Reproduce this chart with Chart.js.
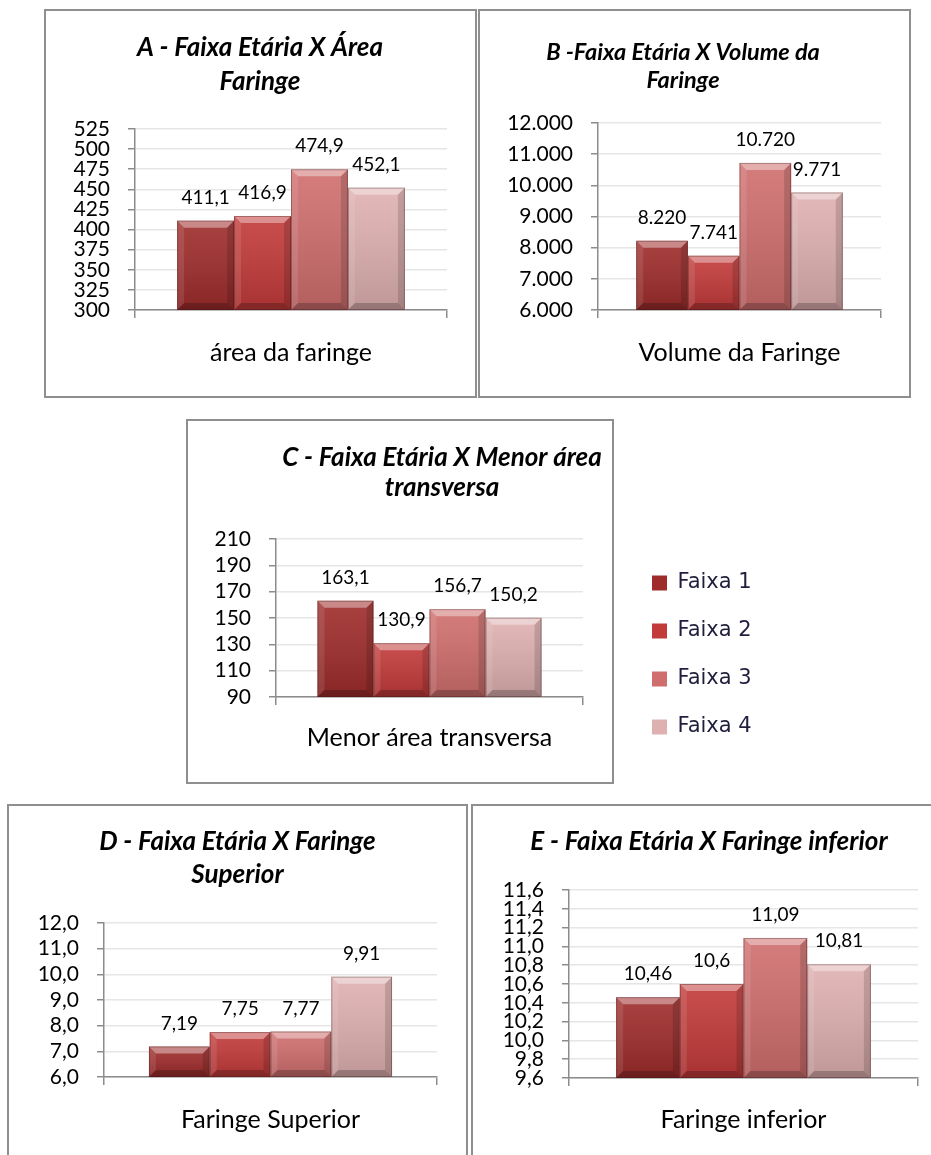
<!DOCTYPE html>
<html lang="pt-BR">
<head>
<meta charset="utf-8">
<title>Faixa Etária x medidas da faringe</title>
<script src="https://cdn.jsdelivr.net/npm/chart.js@4.4.1/dist/chart.umd.min.js"></script>
<style>
  html, body { margin: 0; padding: 0; background: #fff; overflow: hidden; }
  body { position: relative; width: 931px; height: 1155px; }
  .painel { position: absolute; box-sizing: border-box; border: 2px solid #8f8f8f; }
  canvas { position: absolute; }
</style>
</head>
<body>
<div class="painel" style="left:44px;top:9px;width:433px;height:389px"></div>
<div class="painel" style="left:478px;top:9px;width:433px;height:389px"></div>
<div class="painel" style="left:186px;top:419px;width:428px;height:365px"></div>
<div class="painel" style="left:7px;top:804px;width:461px;height:360px"></div>
<div class="painel" style="left:471px;top:804px;width:470px;height:360px"></div>

<canvas id="graficoA" width="428" height="385" style="left:46px;top:11px"></canvas>
<canvas id="graficoB" width="427" height="385" style="left:481px;top:11px"></canvas>
<canvas id="graficoD" width="455" height="348" style="left:10px;top:807px"></canvas>
<canvas id="graficoE" width="457" height="348" style="left:474px;top:807px"></canvas>
<canvas id="graficoC" width="636" height="466" style="left:124px;top:422px"></canvas>

<script>
const faixas = ['Faixa 1', 'Faixa 2', 'Faixa 3', 'Faixa 4'];
const faixaCores = ['#9e2c2b', '#c23a39', '#cf6e6d', '#dfb0b0'];

// A - área da faringe
const areaTitulo = ['A - Faixa Etária X Área', 'Faringe'];
const areaCategoria = ['área da faringe'];
const areaValores = [411.1, 416.9, 474.9, 452.1];
const areaEixo = [300, 525, 25];          // min, max, passo

// B - volume da faringe
const volumeTitulo = ['B -Faixa Etária X Volume da', 'Faringe'];
const volumeCategoria = ['Volume da Faringe'];
const volumeValores = [8220, 7741, 10720, 9771];
const volumeEixo = [6000, 12000, 1000];

// C - menor área transversa
const menorTitulo = ['C - Faixa Etária X Menor área', 'transversa'];
const menorCategoria = ['Menor área transversa'];
const menorValores = [163.1, 130.9, 156.7, 150.2];
const menorEixo = [90, 210, 20];

// D - faringe superior
const superiorTitulo = ['D - Faixa Etária X Faringe', 'Superior'];
const superiorCategoria = ['Faringe Superior'];
const superiorValores = [7.19, 7.75, 7.77, 9.91];
const superiorEixo = [6, 12, 1];

// E - faringe inferior
const inferiorTitulo = ['E - Faixa Etária X Faringe inferior'];
const inferiorCategoria = ['Faringe inferior'];
const inferiorValores = [10.46, 10.6, 11.09, 10.81];
const inferiorEixo = [9.6, 11.6, 0.2];

const FONTE = 'Lato, "Open Sans", sans-serif';
const CINZA = '#8c8c8c';

const virgula = v => String(v).replace('.', ',');
const umaCasa = v => Number(v).toFixed(1).replace('.', ',');
const milhar = v => Math.round(v).toString().replace(/\B(?=(\d{3})+(?!\d))/g, '.');

function poligono(ctx, pts, cor) {
  ctx.beginPath();
  ctx.moveTo(pts[0][0], pts[0][1]);
  for (let k = 1; k < pts.length; k++) ctx.lineTo(pts[k][0], pts[k][1]);
  ctx.closePath();
  ctx.fillStyle = cor;
  ctx.fill();
}

// chanfro claro em cima, escuro embaixo, como as barras "biseladas" do Excel
const relevo = {
  id: 'relevo',
  afterDatasetsDraw(chart) {
    const ctx = chart.ctx;
    const area = chart.chartArea;
    ctx.save();
    chart.data.datasets.forEach((ds, i) => {
      chart.getDatasetMeta(i).data.forEach(bar => {
        const l = bar.x - bar.width / 2, r = bar.x + bar.width / 2;
        const t = Math.max(bar.y, area.top), b = Math.min(bar.base, area.bottom);
        const e = Math.min(7, (b - t) / 2);
        const face = ctx.createLinearGradient(0, t, 0, b);
        face.addColorStop(0, 'rgba(255,255,255,0.10)');
        face.addColorStop(1, 'rgba(0,0,0,0.14)');
        ctx.fillStyle = face;
        ctx.fillRect(l, t, r - l, b - t);
        poligono(ctx, [[l, t], [r, t], [r - e, t + e], [l + e, t + e]], 'rgba(255,255,255,0.38)');
        poligono(ctx, [[l, t], [l + e, t + e], [l + e, b - e], [l, b]], 'rgba(255,255,255,0.10)');
        poligono(ctx, [[r, t], [r, b], [r - e, b - e], [r - e, t + e]], 'rgba(0,0,0,0.14)');
        poligono(ctx, [[l, b], [l + e, b - e], [r - e, b - e], [r, b]], 'rgba(0,0,0,0.22)');
        ctx.strokeStyle = 'rgba(60,20,20,0.35)';
        ctx.lineWidth = 1;
        ctx.strokeRect(l + 0.5, t + 0.5, r - l - 1, b - t - 1);
      });
    });
    ctx.restore();
  }
};

// valor escrito acima de cada barra
function etiquetas(formato) {
  return {
    id: 'etiquetas',
    afterDatasetsDraw(chart) {
      const ctx = chart.ctx;
      ctx.save();
      ctx.font = '19px ' + FONTE;
      ctx.fillStyle = '#000';
      ctx.textAlign = 'center';
      ctx.textBaseline = 'middle';
      chart.data.datasets.forEach((ds, i) => {
        chart.getDatasetMeta(i).data.forEach((bar, j) => {
          ctx.fillText(formato(ds.data[j]), bar.x, bar.y - 23);
        });
      });
      ctx.restore();
    }
  };
}

function graficoFaixa(id, o) {
  const [min, max, passo] = o.eixo;
  const scales = {
    x: {
      grid: { display: true, drawOnChartArea: false, tickLength: 8, tickColor: CINZA, lineWidth: 1.5 },
      border: { color: CINZA, width: 1.5 },
      ticks: { color: '#000', font: { family: FONTE, size: 25 }, padding: o.xPad, maxRotation: 0 },
      afterFit: s => { s.height = o.xAltura; }
    },
    y: {
      min, max,
      grid: { color: '#e6e6e6', lineWidth: 1.5, tickLength: 7, tickColor: CINZA },
      border: { color: CINZA, width: 1.5 },
      ticks: {
        stepSize: passo, autoSkip: false, padding: 18, color: '#000',
        font: { family: FONTE, size: 21, lineHeight: 1 },
        callback: v => o.tick(v)
      },
      afterFit: s => { s.width = o.yLargura; }
    }
  };
  if (o.legenda) {
    // eixo vazio à direita: afasta a legenda das barras
    scales.y2 = {
      position: 'right', display: true,
      grid: { display: false }, border: { display: false }, ticks: { display: false },
      afterFit: s => { s.width = 42; }
    };
  }

  return new Chart(document.getElementById(id), {
    type: 'bar',
    data: {
      labels: o.categoria,
      datasets: faixas.map((f, i) => ({
        label: f,
        data: [o.valores[i]],
        backgroundColor: faixaCores[i],
        borderWidth: 0,
        barPercentage: 1,
        categoryPercentage: 0.73
      }))
    },
    options: {
      responsive: false,
      animation: false,
      layout: { padding: o.pad },
      scales,
      plugins: {
        tooltip: { enabled: false },
        title: {
          display: true,
          text: o.titulo,
          color: '#000',
          font: { family: FONTE, size: o.tituloTam, weight: 'bold', style: 'italic', lineHeight: o.tituloLinha + 'px' },
          padding: o.tituloPad
        },
        legend: {
          display: !!o.legenda,
          position: 'right',
          maxWidth: 128,
          labels: {
            boxWidth: 15, boxHeight: 15, padding: 27,
            color: '#1f1f3d',
            font: { family: '"DejaVu Sans", Verdana, sans-serif', size: 21 }
          }
        }
      }
    },
    plugins: [relevo, etiquetas(o.rotulo)]
  });
}

function desenhar() {
  graficoFaixa('graficoA', {
    titulo: areaTitulo, categoria: areaCategoria, valores: areaValores, eixo: areaEixo,
    tick: v => String(v), rotulo: virgula,
    pad: { left: 27, right: 27, top: 0, bottom: 0 },
    tituloTam: 26, tituloLinha: 34, tituloPad: { top: 20, bottom: 30 },
    yLargura: 62, xAltura: 86, xPad: 20
  });
  graficoFaixa('graficoB', {
    titulo: volumeTitulo, categoria: volumeCategoria, valores: volumeValores, eixo: volumeEixo,
    tick: milhar, rotulo: milhar,
    pad: { left: 4, right: 27, top: 0, bottom: 0 },
    tituloTam: 23.5, tituloLinha: 28, tituloPad: { top: 27, bottom: 29 },
    yLargura: 113, xAltura: 86, xPad: 20
  });
  graficoFaixa('graficoC', {
    titulo: menorTitulo, categoria: menorCategoria, valores: menorValores, eixo: menorEixo,
    tick: v => String(v), rotulo: virgula, legenda: true,
    pad: { left: 7, right: 7, top: 0, bottom: 0 },
    tituloTam: 26, tituloLinha: 30, tituloPad: { top: 21, bottom: 36 },
    yLargura: 145, xAltura: 191, xPad: 18
  });
  graficoFaixa('graficoD', {
    titulo: superiorTitulo, categoria: superiorCategoria, valores: superiorValores, eixo: superiorEixo,
    tick: umaCasa, rotulo: virgula,
    pad: { left: 28, right: 28, top: 0, bottom: 0 },
    tituloTam: 26, tituloLinha: 33, tituloPad: { top: 18, bottom: 32 },
    yLargura: 66, xAltura: 78, xPad: 20
  });
  graficoFaixa('graficoE', {
    titulo: inferiorTitulo, categoria: inferiorCategoria, valores: inferiorValores, eixo: inferiorEixo,
    tick: umaCasa, rotulo: virgula,
    pad: { left: 26, right: 13, top: 0, bottom: 0 },
    tituloTam: 26, tituloLinha: 30, tituloPad: { top: 20, bottom: 33 },
    yLargura: 69, xAltura: 77, xPad: 19
  });
}

Promise.all([
  document.fonts.load('italic bold 26px Lato'),
  document.fonts.load('21px Lato'),
  document.fonts.load('21px "DejaVu Sans"')
]).catch(() => {}).then(desenhar);
</script>
</body>
</html>
